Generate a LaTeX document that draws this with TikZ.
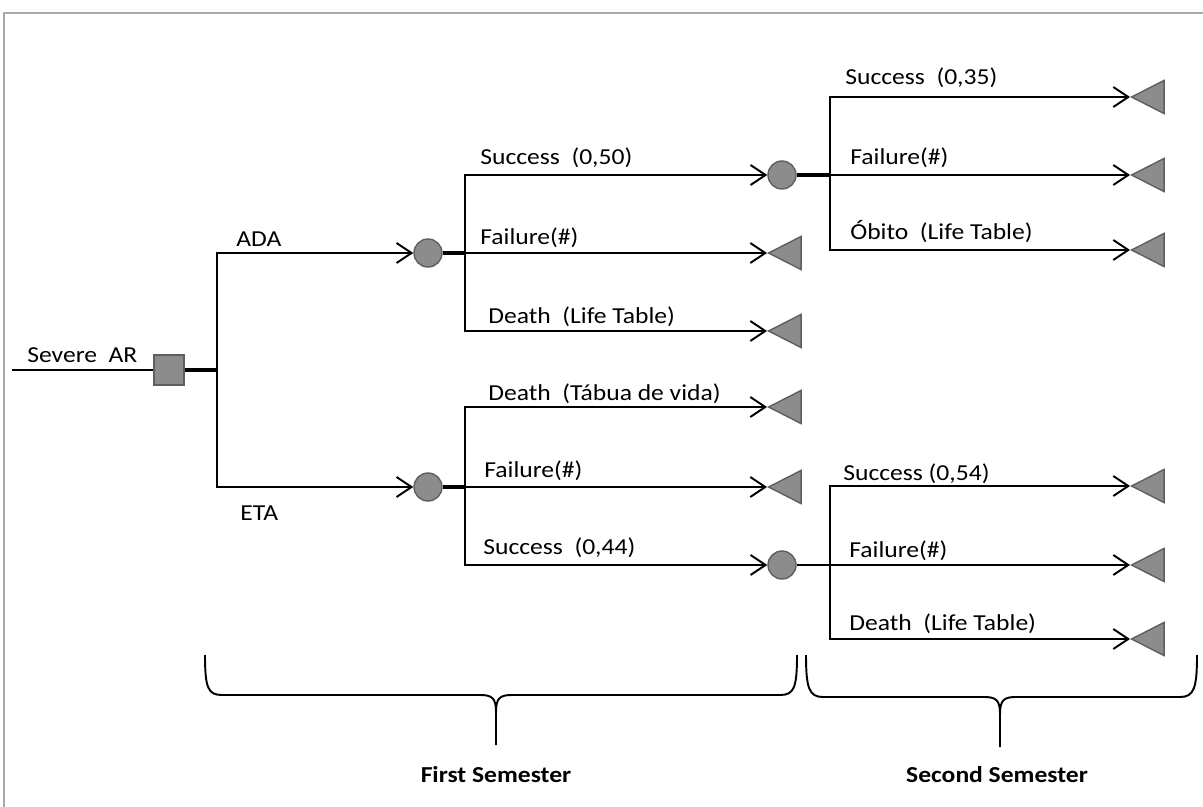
\documentclass[tikz,border=0pt]{standalone}
\usepackage{fontspec}
\setmainfont{Carlito}[FakeStretch=1.12]
\usetikzlibrary{arrows.meta,shapes.geometric}

\definecolor{nodefill}{RGB}{140,140,140}
\definecolor{nodeline}{RGB}{95,95,95}
\definecolor{framegray}{RGB}{170,170,170}

\begin{document}
\begin{tikzpicture}[x=0.2mm, y=-0.2mm,
    font=\fontsize{13}{15}\selectfont,
    line/.style={line width=1.1pt},
    stub/.style={line width=2.2pt},
    branch/.style={
        line,
        -{Straight Barb[length=3mm,width=4mm]}
    },
    decision/.style={
        draw=nodeline,
        fill=nodefill,
        line width=0.8pt,
        minimum size=6mm,
        inner sep=0pt
    },
    chance/.style={
        circle,
        draw=nodeline,
        fill=nodefill,
        line width=0.8pt,
        minimum size=5.6mm,
        inner sep=0pt
    },
    terminal/.style={
        isosceles triangle,
        isosceles triangle apex angle=54,
        shape border rotate=180,
        draw=nodeline,
        fill=nodefill,
        line width=0.8pt,
        minimum width=6.5mm,
        minimum height=6.5mm,
        inner sep=0pt,
        anchor=apex
    },
    lbl/.style={anchor=base west, inner sep=0pt},
    semester/.style={font=\fontsize{13}{15}\selectfont\bfseries}
]
\useasboundingbox (0,0) rectangle (1203,807);

% --- Frame ---
\draw[framegray, line width=1.2pt] (4,807) -- (4,13) -- (1203,13);

% --- Decision ---
\coordinate (start) at (12,370);
\node[decision] (dec) at (169,370) {};
\coordinate (j0) at (217,370);
\node[lbl] at (27,362) {Severe\ \ AR};

% --- Chance nodes ---
\node[chance] (ada) at (428,253) {};
\node[chance] (eta) at (428,487) {};
\node[chance] (ada2) at (782,175) {};
\node[chance] (eta2) at (782,565) {};
\coordinate (j1) at (465,253);
\coordinate (j2) at (830,175);
\coordinate (j3) at (465,487);
\coordinate (j4) at (830,565);

% --- Terminals, first semester ---
\node[terminal] (t1) at (767,253) {};
\node[terminal] (t2) at (767,331) {};
\node[terminal] (t3) at (767,407) {};
\node[terminal] (t4) at (767,487) {};

% --- Terminals, second semester ---
\node[terminal] (t5) at (1130,97) {};
\node[terminal] (t6) at (1130,175) {};
\node[terminal] (t7) at (1130,250) {};
\node[terminal] (t8) at (1130,486) {};
\node[terminal] (t9) at (1130,565) {};
\node[terminal] (t10) at (1130,639) {};

% --- Connectors ---
\draw[line] (start) -- (dec);
\draw[stub] (dec) -- (j0);
\draw[branch] (j0) |- (ada);
\draw[branch] (j0) |- (eta);

\draw[stub] (ada) -- (j1);
\draw[branch] (j1) |- (ada2);
\draw[branch] (j1) -- (t1);
\draw[branch] (j1) |- (t2);

\draw[stub] (ada2) -- (j2);
\draw[branch] (j2) |- (t5);
\draw[branch] (j2) -- (t6);
\draw[branch] (j2) |- (t7);

\draw[stub] (eta) -- (j3);
\draw[branch] (j3) |- (t3);
\draw[branch] (j3) -- (t4);
\draw[branch] (j3) |- (eta2);

\draw[line] (eta2) -- (j4);
\draw[branch] (j4) |- (t8);
\draw[branch] (j4) -- (t9);
\draw[branch] (j4) |- (t10);

% --- Labels ---
\node[lbl] at (236,247) {ADA};
\node[lbl] at (240,520) {ETA};
\node[lbl] at (480,165) {Success\ \ (0,50)};
\node[lbl] at (480,245) {Failure(\#)};
\node[lbl] at (488,324) {Death\ \ (Life Table)};
\node[lbl] at (488,400) {Death\ \ (Tábua de vida)};
\node[lbl] at (484,477) {Failure(\#)};
\node[lbl] at (483,554) {Success\ \ (0,44)};
\node[lbl] at (845,85) {Success\ \ (0,35)};
\node[lbl] at (850,165) {Failure(\#)};
\node[lbl] at (850,240) {Óbito\ \ (Life Table)};
\node[lbl] at (843,480) {Success (0,54)};
\node[lbl] at (849,557) {Failure(\#)};
\node[lbl] at (849,630) {Death\ \ (Life Table)};

% --- Braces ---
\draw[line] (205,655) .. controls (205,688) and (208,695) .. (222,695) -- (480,695)
    .. controls (492,695) and (496,698) .. (496,712) -- (496,745);
\draw[line] (797,655) .. controls (797,688) and (794,695) .. (780,695) -- (512,695)
    .. controls (500,695) and (496,698) .. (496,712);
\draw[line] (806,655) .. controls (806,688) and (809,697) .. (823,697) -- (984,697)
    .. controls (996,697) and (1000,700) .. (1000,714) -- (1000,747);
\draw[line] (1197,655) .. controls (1197,688) and (1194,697) .. (1180,697) -- (1016,697)
    .. controls (1004,697) and (1000,700) .. (1000,714);

\node[semester] (sem1) at (496,775) {First Semester};
\node[semester] (sem2) at (997,775) {Second Semester};

\end{tikzpicture}
\end{document}
